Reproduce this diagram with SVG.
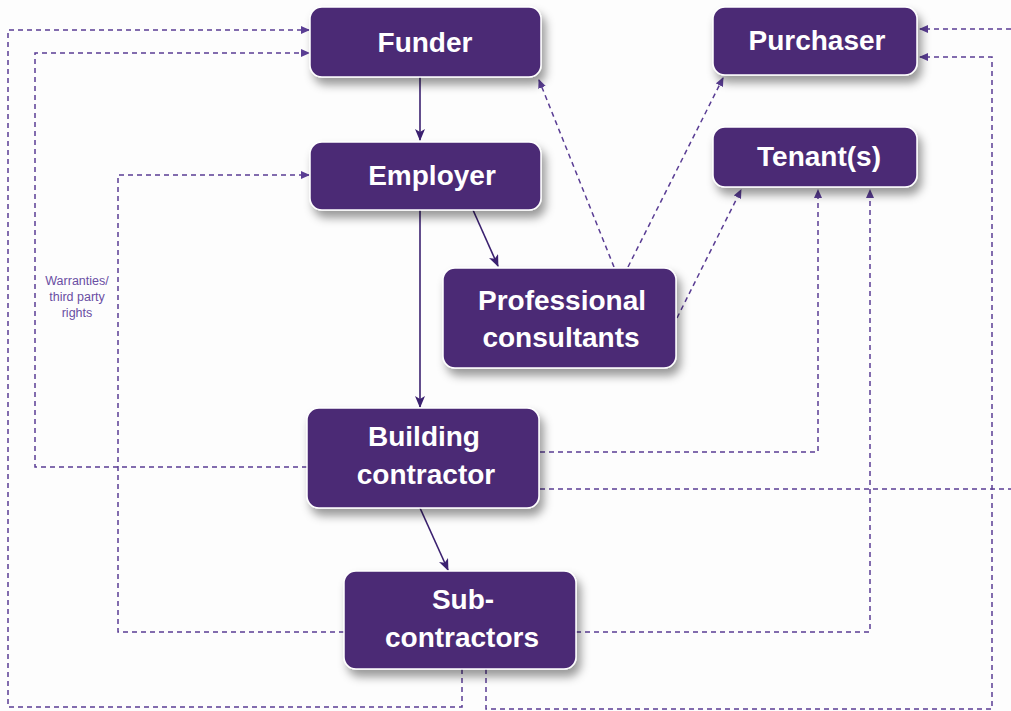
<svg xmlns="http://www.w3.org/2000/svg" width="1011" height="711" viewBox="0 0 1011 711">
<style>
.box{fill:#4b2a75;stroke:#ffffff;stroke-width:1.5;filter:url(#sh)}
.lbl{fill:#ffffff;font-family:"Liberation Sans",Arial,sans-serif;font-weight:bold;font-size:28px;text-anchor:middle}
.dash{fill:none;stroke:#5a3d94;stroke-width:1.5;stroke-dasharray:5 4}
.solid{fill:none;stroke:#3b2170;stroke-width:1.6}
.note{fill:#6a4ea3;font-family:"Liberation Sans",Arial,sans-serif;font-size:12.5px;text-anchor:middle}
</style>
<defs>
<filter id="sh" x="-20%" y="-30%" width="150%" height="170%">
<feDropShadow dx="4" dy="7" stdDeviation="5" flood-color="#000" flood-opacity="0.4"/>
</filter>
<marker id="ad" markerWidth="9" markerHeight="8" refX="8" refY="4" orient="auto" markerUnits="userSpaceOnUse">
<path d="M0,0 L9,4 L0,8 z" fill="#5a3d94"/>
</marker>
<marker id="as" markerWidth="12" markerHeight="10" refX="11" refY="5" orient="auto" markerUnits="userSpaceOnUse">
<path d="M0,0 L12,5 L0,10 L3,5 z" fill="#3b2170"/>
</marker>
</defs>
<rect width="1011" height="711" fill="#fdfdfd"/>
<g id="connectors">
<path class="solid" d="M420 77 V140" marker-end="url(#as)"/>
<path class="solid" d="M473 210 L498 266" marker-end="url(#as)"/>
<path class="solid" d="M420 210 V407" marker-end="url(#as)"/>
<path class="solid" d="M420 508 L448 570" marker-end="url(#as)"/>
<path class="dash" d="M462 669 V707 H8 V30 H309" marker-end="url(#ad)"/>
<path class="dash" d="M307 467 H35 V53 H309" marker-end="url(#ad)"/>
<path class="dash" d="M344 632 H118 V175 H309" marker-end="url(#ad)"/>
<path class="dash" d="M486 669 V709 H992 V57 H920" marker-end="url(#ad)"/>
<path class="dash" d="M1011 29 H920" marker-end="url(#ad)"/>
<path class="dash" d="M540 452 H818 V190" marker-end="url(#ad)"/>
<path class="dash" d="M540 489 H1011"/>
<path class="dash" d="M576 632 H870 V190" marker-end="url(#ad)"/>
<path class="dash" d="M614 267 L539 80" marker-end="url(#ad)"/>
<path class="dash" d="M628 267 L723 78" marker-end="url(#ad)"/>
<path class="dash" d="M677 318 L741 190" marker-end="url(#ad)"/>
<text class="note" x="77" y="285">Warranties/</text>
<text class="note" x="77" y="301">third party</text>
<text class="note" x="77" y="317">rights</text>
</g>
<g id="funder"><rect class="box" x="310" y="7" width="231" height="70" rx="12"/><text class="lbl" x="425" y="52">Funder</text></g>
<g id="purchaser"><rect class="box" x="713" y="7" width="204" height="68" rx="12"/><text class="lbl" x="817" y="50">Purchaser</text></g>
<g id="employer"><rect class="box" x="310" y="142" width="231" height="68" rx="12"/><text class="lbl" x="432" y="185">Employer</text></g>
<g id="tenants"><rect class="box" x="713" y="127" width="204" height="60" rx="12"/><text class="lbl" x="819" y="166">Tenant(s)</text></g>
<g id="consultants"><rect class="box" x="443" y="268" width="233" height="100" rx="12"/><text class="lbl" x="562" y="310">Professional</text><text class="lbl" x="561" y="347">consultants</text></g>
<g id="building-contractor"><rect class="box" x="307" y="408" width="232" height="100" rx="12"/><text class="lbl" x="424" y="446">Building</text><text class="lbl" x="426" y="484">contractor</text></g>
<g id="sub-contractors"><rect class="box" x="344" y="571" width="232" height="98" rx="12"/><text class="lbl" x="463" y="609">Sub-</text><text class="lbl" x="462" y="647">contractors</text></g>
</svg>
